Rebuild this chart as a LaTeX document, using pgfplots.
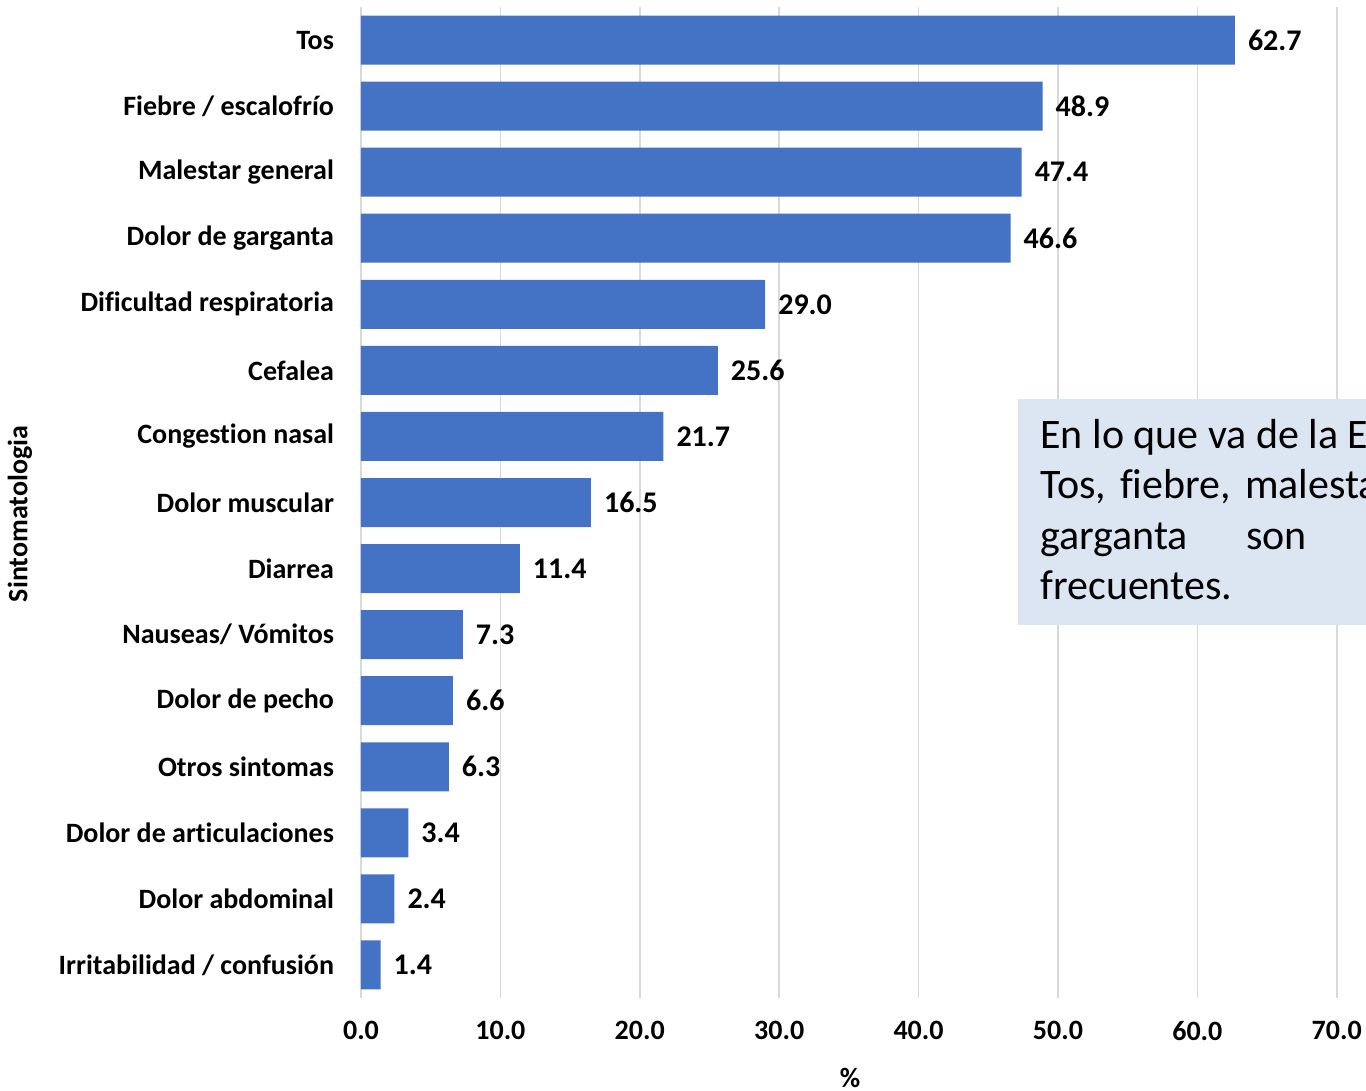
\documentclass[border=0pt]{standalone}
\usepackage{fontspec}
\setmainfont[Ligatures=NoCommon]{Carlito}
\usepackage{pgfplots}
\pgfplotsset{compat=1.18}
\definecolor{barblue}{HTML}{4472C4}
\definecolor{boxblue}{HTML}{DCE6F2}
\definecolor{gridgray}{HTML}{D9D9D9}
\begin{document}
\begin{tikzpicture}
\path[use as bounding box] (-180.5pt,-46.5pt) rectangle (502.5pt,499pt);
\clip (-180.5pt,-46.5pt) rectangle (502.5pt,499pt);
\begin{axis}[
  scale only axis, width=502.5pt, height=495.5pt,
  xbar, bar width=24.5pt,
  xmin=0, xmax=72.1, ymin=-0.5, ymax=14.5, y dir=reverse,
  xtick={0,10,...,70}, ytick={0,...,14},
  yticklabels={Tos,Fiebre / escalofrío,Malestar general,Dolor de garganta,Dificultad respiratoria,Cefalea,Congestion nasal,Dolor muscular,Diarrea,Nauseas/ Vómitos,Dolor de pecho,Otros sintomas,Dolor de articulaciones,Dolor abdominal,Irritabilidad / confusión},
  xmajorgrids, major grid style={gridgray, line width=0.8pt},
  axis line style={draw=none}, major tick length=0pt,
  /pgf/number format/assume math mode=true,
  xticklabel={\pgfmathprintnumber[fixed,zerofill,precision=1]{\tick}},
  xticklabel style={font=\bfseries\fontsize{14}{16}\selectfont, yshift=-8pt},
  yticklabel style={font=\bfseries\fontsize{14}{16}\selectfont, xshift=-10pt},
  point meta=x,
  nodes near coords={\pgfmathprintnumber[fixed,zerofill,precision=1]{\pgfplotspointmeta}},
  nodes near coords style={font=\bfseries\fontsize{15}{16}\selectfont, anchor=west, xshift=3pt, text=black},
  clip=false,
]
\addplot[fill=barblue, draw=none] coordinates {
  (62.7,0) (48.9,1) (47.4,2) (46.6,3) (29.0,4) (25.6,5) (21.7,6) (16.5,7)
  (11.4,8) (7.3,9) (6.6,10) (6.3,11) (3.4,12) (2.4,13) (1.4,14)};
\end{axis}
\fill[boxblue] (328.5pt,186.5pt) rectangle (620pt,299.5pt);
\begin{scope}[every node/.style={anchor=base west, inner sep=0pt, font=\fontsize{21}{25}\selectfont}]
\node at (339.5pt,274.5pt) {En lo que va de la Epidemia,};
\node at (339.5pt,249.5pt) {Tos,\hspace{7pt}fiebre,\hspace{7pt}malestar\hspace{7pt}general\hspace{7pt}y};
\node at (339.5pt,224pt) {garganta\hspace{29pt}son\hspace{29pt}los\hspace{29pt}síntomas};
\node at (339.5pt,199pt) {frecuentes.};
\end{scope}
\node[font=\bfseries\fontsize{14}{16}\selectfont] at (244.5pt,-40pt) {\%};
\node[rotate=90, font=\bfseries\fontsize{14}{16}\selectfont] at (-170.5pt,242pt) {Sintomatologia};
\end{tikzpicture}
\end{document}
